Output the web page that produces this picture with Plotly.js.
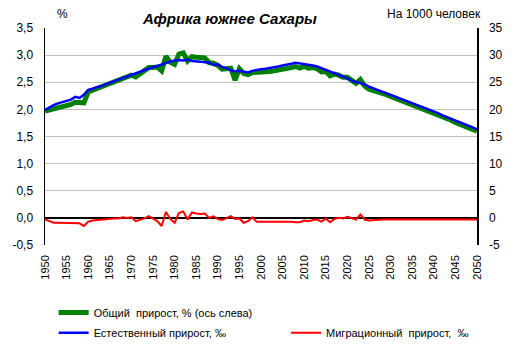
<!DOCTYPE html>
<html><head><meta charset="utf-8">
<script src="https://cdn.plot.ly/plotly-3.0.1.min.js"></script>
<style>html,body{margin:0;padding:0;background:#fff}#c{width:515px;height:351px}</style>
</head><body><div id="c"></div>
<script>
const years = [];
for (let y = 1950; y <= 2050; y++) years.push(y);

// Общий прирост, % (left axis)
const totalGrowth = [
1.97,1.99,2.00,2.02,2.04,2.06,2.09,2.13,2.12,2.12,
2.32,2.35,2.39,2.42,2.45,2.48,2.51,2.54,2.57,2.60,
2.63,2.60,2.65,2.71,2.77,2.77,2.78,2.71,2.98,2.87,
2.83,3.02,3.04,2.89,2.97,2.96,2.95,2.95,2.86,2.85,
2.81,2.74,2.75,2.76,2.54,2.75,2.66,2.64,2.68,2.68,
2.68,2.69,2.70,2.71,2.72,2.74,2.75,2.77,2.79,2.76,
2.79,2.76,2.77,2.75,2.69,2.70,2.62,2.65,2.63,2.59,
2.59,2.53,2.48,2.55,2.43,2.37,2.35,2.33,2.30,2.27,
2.24,2.21,2.18,2.15,2.11,2.08,2.05,2.02,1.99,1.96,
1.93,1.90,1.86,1.83,1.80,1.76,1.73,1.70,1.67,1.64,
1.60];

// Естественный прирост, ‰ (right axis)
const naturalGrowth = [
19.9,20.4,20.8,21.1,21.3,21.5,21.8,22.3,22.1,22.7,
23.6,23.8,24.0,24.3,24.6,24.9,25.2,25.5,25.7,26.0,
26.3,26.6,26.9,27.2,27.5,27.8,28.0,28.3,28.6,28.8,
29.0,29.1,29.0,29.2,28.9,28.9,28.8,28.7,28.6,28.2,
28.3,27.8,27.6,27.2,27.0,27.1,27.0,26.8,27.1,27.3,
27.4,27.5,27.6,27.7,27.9,28.1,28.2,28.4,28.6,28.5,
28.4,28.2,28.1,27.9,27.6,27.3,27.0,26.7,26.3,26.0,
25.7,25.3,25.1,24.9,24.6,24.2,23.9,23.6,23.3,23.0,
22.7,22.4,22.1,21.8,21.4,21.1,20.8,20.5,20.2,19.9,
19.6,19.3,18.9,18.6,18.3,17.9,17.6,17.3,17.0,16.7,
16.3];

// Миграционный прирост, ‰ (right axis)
const migrationGrowth = [
-0.3,-0.6,-0.9,-0.9,-0.9,-0.9,-0.9,-0.9,-1.0,-1.5,
-0.7,-0.5,-0.4,-0.3,-0.3,-0.2,-0.1,-0.1,0.1,0.0,
0.1,-0.6,-0.4,-0.1,0.3,-0.2,-0.6,-1.5,1.1,-0.2,
-0.9,0.9,1.2,-0.3,1.0,0.8,0.7,0.8,0.0,0.3,
-0.2,-0.4,-0.1,0.3,-0.2,-0.1,-0.9,-0.6,0.1,-0.7,
-0.7,-0.7,-0.6,-0.6,-0.7,-0.7,-0.7,-0.7,-0.8,-0.8,
-0.5,-0.6,-0.4,-0.3,-0.7,-0.1,-0.8,-0.2,0.0,-0.1,
0.2,0.0,-0.3,0.6,-0.3,-0.5,-0.4,-0.3,-0.3,-0.3,
-0.3,-0.3,-0.3,-0.3,-0.3,-0.3,-0.3,-0.3,-0.3,-0.3,
-0.3,-0.3,-0.3,-0.3,-0.3,-0.3,-0.3,-0.3,-0.3,-0.3,
-0.3];

const xTickVals = [1950,1955,1960,1965,1970,1975,1980,1985,1990,1995,2000,2005,2010,2015,2020,2025,2030,2035,2040,2045,2050];
const leftTickVals = [-0.5,0,0.5,1,1.5,2,2.5,3,3.5];
const leftTickText = ['-0,5','0,0','0,5','1,0','1,5','2,0','2,5','3,0','3,5'];
const rightTickVals = [-5,0,5,10,15,20,25,30,35];
const rightTickText = ['-5','0','5','10','15','20','25','30','35'];

const names = ['Общий  прирост, % (ось слева)', 'Естественный прирост, ‰', 'Миграционный  прирост,  ‰'];
const FONT = 'Liberation Sans, Arial, sans-serif';

const traces = [
  {x: years, y: migrationGrowth, yaxis: 'y2', type: 'scatter', mode: 'lines', name: names[2],
   line: {color: '#ff0000', width: 2}, legend: 'legend3'},
  {x: years, y: totalGrowth, yaxis: 'y', type: 'scatter', mode: 'lines', name: names[0],
   line: {color: '#008000', width: 5}, legend: 'legend'},
  {x: years, y: naturalGrowth, yaxis: 'y2', type: 'scatter', mode: 'lines', name: names[1],
   line: {color: '#0000ff', width: 2.5}, legend: 'legend2'}
];

const legendBase = {
  orientation: 'h', xanchor: 'left', yanchor: 'top',
  font: {size: 11, family: FONT}, bgcolor: 'rgba(0,0,0,0)', itemwidth: 30
};

const layout = {
  width: 515, height: 351,
  margin: {l: 45, r: 38, t: 28, b: 106, pad: 0, autoexpand: false},
  paper_bgcolor: '#fff', plot_bgcolor: '#fff',
  font: {family: FONT, size: 12, color: '#000'},
  showlegend: true,
  xaxis: {
    range: [1950, 2050], tickvals: xTickVals, ticktext: xTickVals.map(String),
    tickangle: -90, tickfont: {size: 11}, showgrid: false, zeroline: false,
    showline: false, ticks: '', ticklabelstandoff: 7, fixedrange: true
  },
  yaxis: {
    range: [-0.5, 3.5], tickvals: leftTickVals, ticktext: leftTickText,
    showgrid: true, gridcolor: '#c0c0c0', gridwidth: 1,
    zeroline: true, zerolinecolor: '#000', zerolinewidth: 1.5,
    showline: true, linecolor: '#000', linewidth: 1.5, mirror: false,
    ticks: '', ticklabelstandoff: 8, tickfont: {size: 12}
  },
  yaxis2: {
    range: [-5, 35], tickvals: rightTickVals, ticktext: rightTickText,
    overlaying: 'y', side: 'right', showgrid: false, zeroline: false,
    showline: true, linecolor: '#000', linewidth: 1.5,
    ticks: '', ticklabelstandoff: 8, tickfont: {size: 12}
  },
  legend: Object.assign({}, legendBase, {x: 0.02, y: -0.244}),
  legend2: Object.assign({}, legendBase, {x: 0.02, y: -0.337}),
  legend3: Object.assign({}, legendBase, {x: 0.558, y: -0.337}),
  annotations: [
    {text: '<b><i>Африка южнее Сахары</i></b>', xref: 'paper', yref: 'paper',
     x: 0.428, y: 1, yshift: 10, xanchor: 'center', yanchor: 'middle', showarrow: false,
     font: {size: 15, family: FONT}},
    {text: '%', xref: 'paper', yref: 'paper', x: 0.04, y: 1, yshift: 14,
     xanchor: 'center', yanchor: 'middle', showarrow: false, font: {size: 12}},
    {text: 'На 1000 человек', xref: 'paper', yref: 'paper', x: 0.90, y: 1, yshift: 14,
     xanchor: 'center', yanchor: 'middle', showarrow: false, font: {size: 12}}
  ]
};

Plotly.newPlot('c', traces, layout, {displayModeBar: false, staticPlot: true});
</script></body></html>
